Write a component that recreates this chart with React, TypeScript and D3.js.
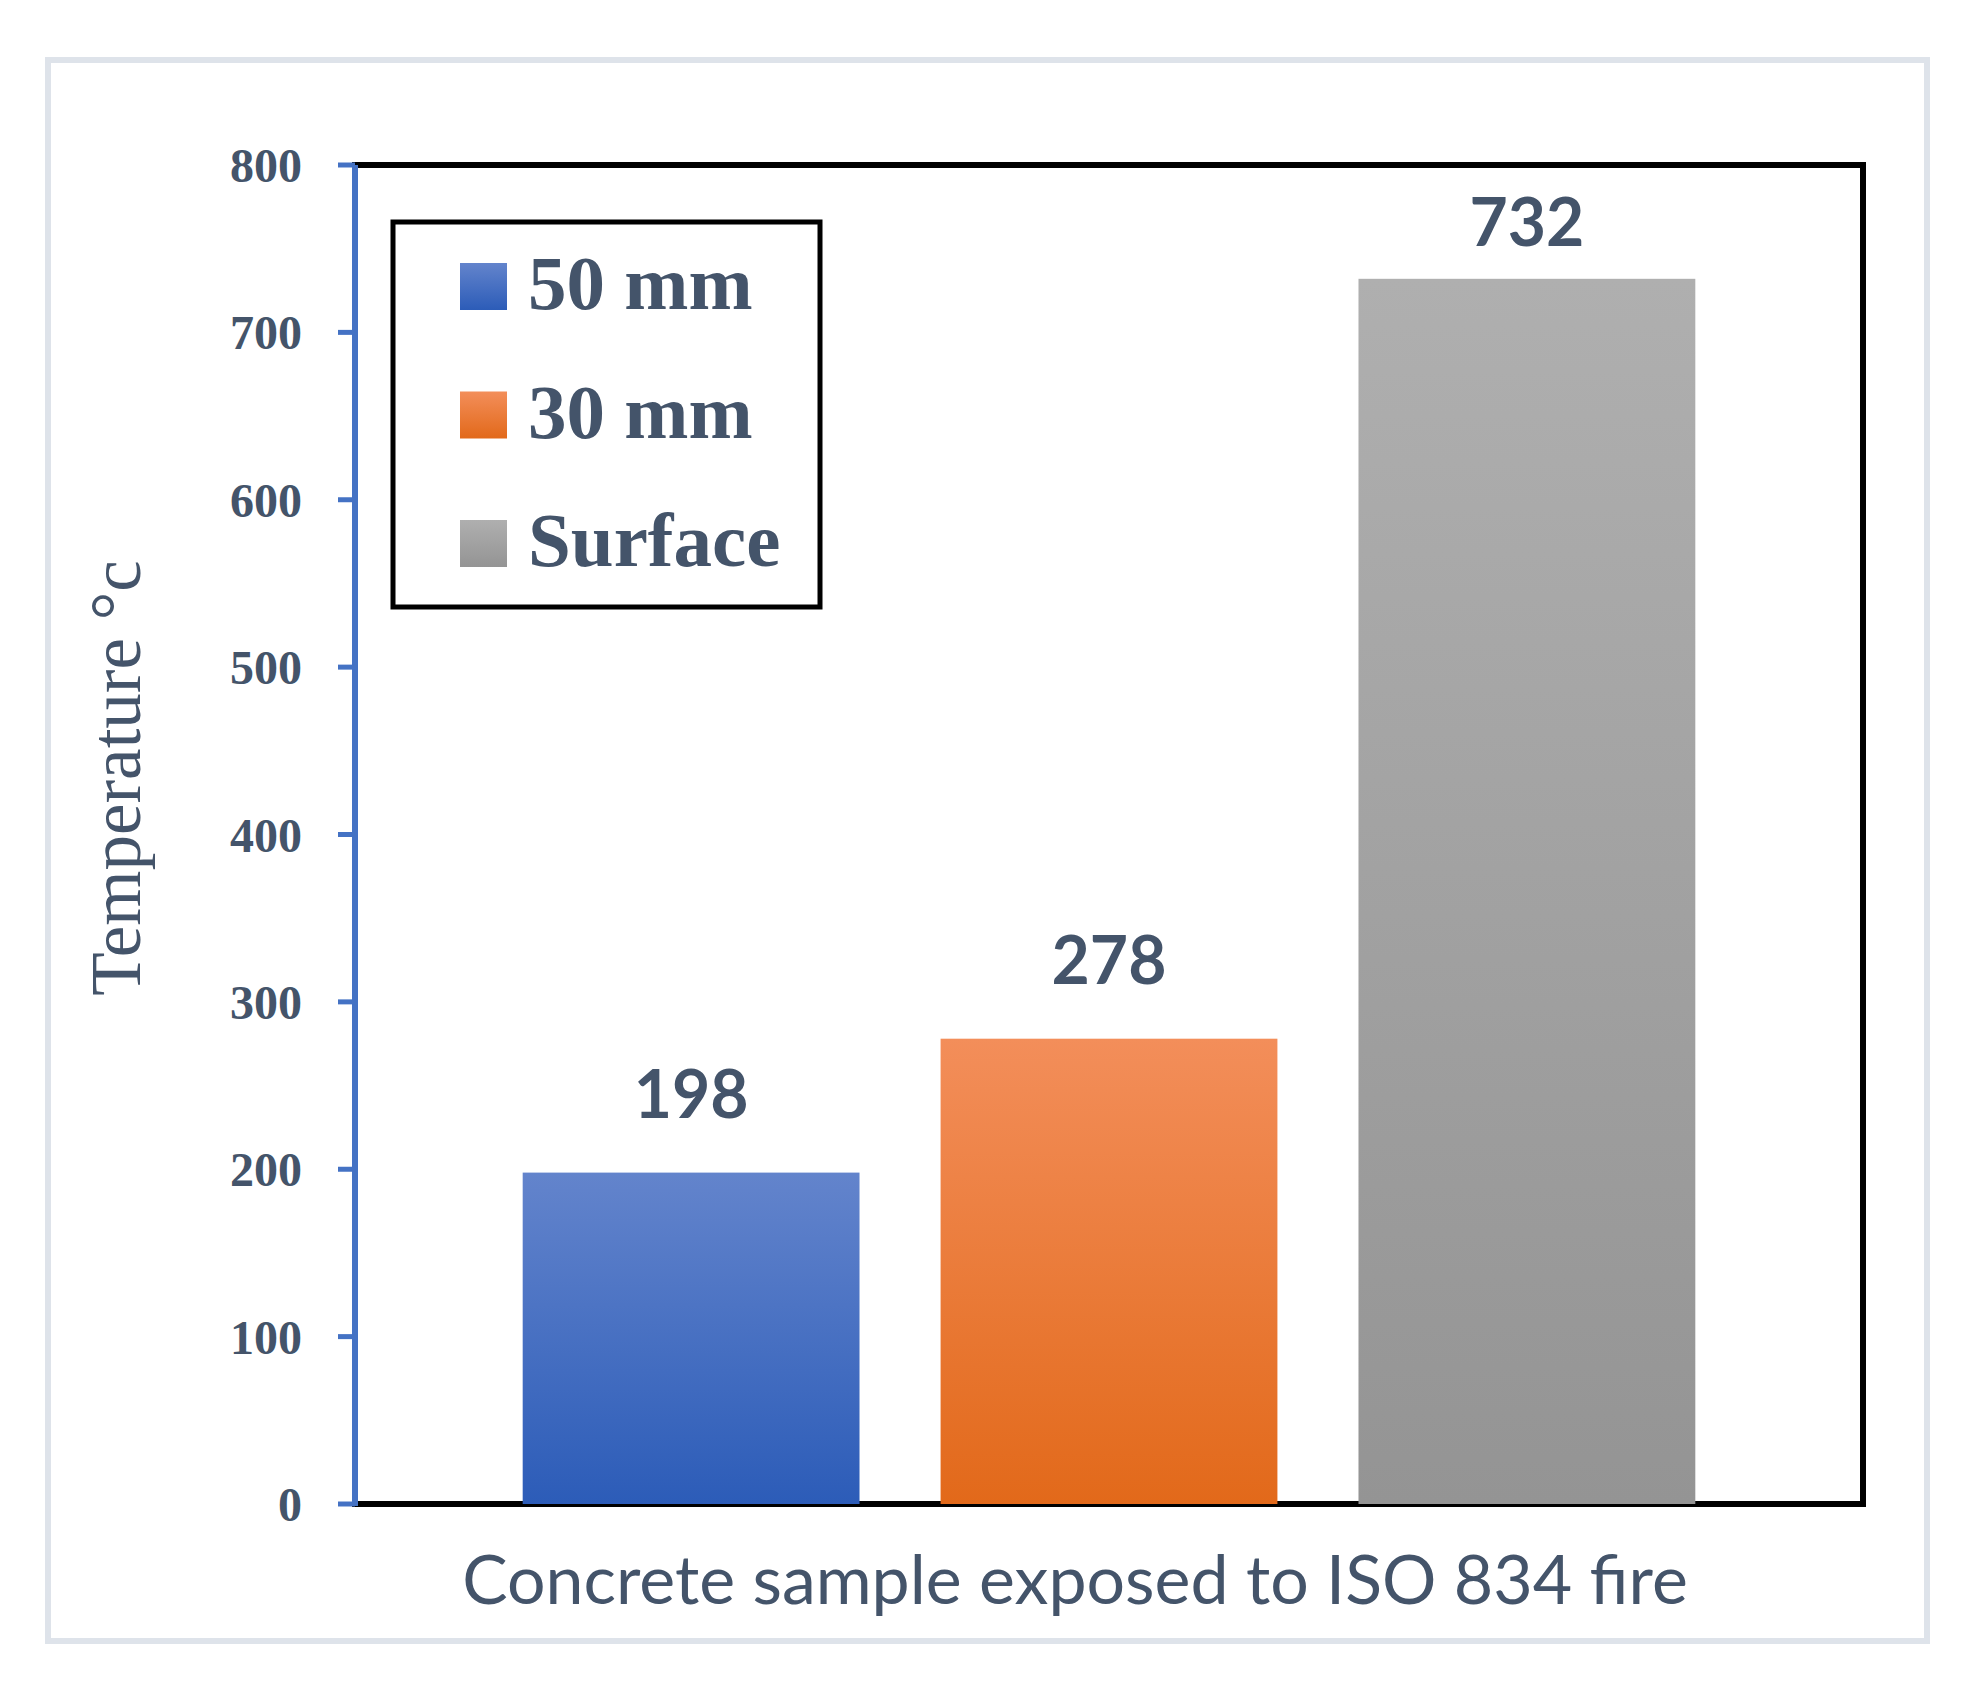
import React, { useEffect, useRef } from 'react';
import * as d3 from 'd3';

// chart data
const categories = ['Concrete sample exposed to ISO 834 fire'];
const seriesNames = ['50 mm', '30 mm', 'Surface'];
const seriesValues = [198, 278, 732];
const yTicks = [0, 100, 200, 300, 400, 500, 600, 700, 800];

// top / bottom colours of each bar's gradient
const seriesTop = ['#6384cc', '#f38e5a', '#afafaf'];
const seriesBottom = ['#2c5cb8', '#e2691a', '#949494'];

const TEXT = '#44546a';

const App: React.FC = () => {
  const svgRef = useRef<SVGSVGElement>(null);
  const width = 1975;
  const height = 1683;

  useEffect(() => {
    if (!svgRef.current) return;
    d3.select(svgRef.current).selectAll('*').remove();

    const svg = d3.select(svgRef.current);
    const plot = { left: 355, right: 1863, top: 165, bottom: 1504 };

    // outer light frame
    svg
      .append('rect')
      .attr('x', 48)
      .attr('y', 60)
      .attr('width', 1879)
      .attr('height', 1581)
      .attr('fill', 'none')
      .attr('stroke', '#dee3ea')
      .attr('stroke-width', 6);

    // gradients
    const defs = svg.append('defs');
    seriesNames.forEach((_, i) => {
      const g = defs
        .append('linearGradient')
        .attr('id', `grad-${i}`)
        .attr('x1', 0)
        .attr('y1', 0)
        .attr('x2', 0)
        .attr('y2', 1);
      g.append('stop').attr('offset', '0%').attr('stop-color', seriesTop[i]);
      g.append('stop').attr('offset', '100%').attr('stop-color', seriesBottom[i]);
    });

    // scales
    const yScale = d3.scaleLinear().domain([0, 800]).range([plot.bottom, plot.top]);
    const x0 = d3
      .scaleBand<string>()
      .domain(categories)
      .range([plot.left, plot.right])
      .paddingInner(0)
      .paddingOuter(0.143);
    const x1 = d3
      .scaleBand<string>()
      .domain(seriesNames)
      .range([0, x0.bandwidth()])
      .paddingInner(0.194)
      .paddingOuter(0);

    // plot frame
    svg
      .append('rect')
      .attr('x', plot.left)
      .attr('y', plot.top)
      .attr('width', plot.right - plot.left)
      .attr('height', plot.bottom - plot.top)
      .attr('fill', 'none')
      .attr('stroke', '#000')
      .attr('stroke-width', 6);

    // bars
    const group = svg
      .append('g')
      .attr('transform', `translate(${x0(categories[0])},0)`);

    group
      .selectAll('.bar')
      .data(seriesValues)
      .enter()
      .append('rect')
      .attr('class', 'bar')
      .attr('x', (_d: number, i: number) => x1(seriesNames[i]) as number)
      .attr('y', (d: number) => yScale(d))
      .attr('width', x1.bandwidth())
      .attr('height', (d: number) => yScale(0) - yScale(d))
      .attr('fill', (_d: number, i: number) => `url(#grad-${i})`);

    // value labels (kept inside the frame)
    group
      .selectAll('.val')
      .data(seriesValues)
      .enter()
      .append('text')
      .attr('class', 'val')
      .attr('x', (_d: number, i: number) => (x1(seriesNames[i]) as number) + x1.bandwidth() / 2)
      .attr('y', (d: number) => Math.max(yScale(d) - 55, plot.top + 81))
      .attr('text-anchor', 'middle')
      .attr('font-family', 'Lato, "Open Sans", sans-serif')
      .attr('font-weight', 700)
      .attr('font-size', 66)
      .attr('fill', TEXT)
      .text((d: number) => d);

    // y axis (blue)
    const yAxis = svg.append('g');
    yAxis
      .append('line')
      .attr('x1', plot.left)
      .attr('x2', plot.left)
      .attr('y1', yScale(800))
      .attr('y2', yScale(0) + 2)
      .attr('stroke', '#4472c4')
      .attr('stroke-width', 6);
    yAxis
      .selectAll('.tick')
      .data(yTicks)
      .enter()
      .append('line')
      .attr('x1', plot.left - 17)
      .attr('x2', plot.left)
      .attr('y1', (d: number) => yScale(d))
      .attr('y2', (d: number) => yScale(d))
      .attr('stroke', '#4472c4')
      .attr('stroke-width', 5);
    yAxis
      .selectAll('.tlabel')
      .data(yTicks)
      .enter()
      .append('text')
      .attr('x', 302)
      .attr('y', (d: number) => yScale(d) + 17)
      .attr('text-anchor', 'end')
      .attr('font-family', '"Liberation Serif", serif')
      .attr('font-weight', 700)
      .attr('font-size', 48)
      .attr('fill', TEXT)
      .text((d: number) => d);

    // axis titles
    svg
      .append('text')
      .attr('transform', `translate(140,${778}) rotate(-90)`)
      .attr('text-anchor', 'middle')
      .attr('font-family', '"Liberation Serif", serif')
      .attr('font-size', 71)
      .attr('fill', TEXT)
      .text('Temperature °c');

    svg
      .append('text')
      .attr('x', 1075)
      .attr('y', 1604)
      .attr('text-anchor', 'middle')
      .attr('font-family', 'Lato, "Open Sans", sans-serif')
      .attr('font-size', 68)
      .attr('fill', TEXT)
      .text(categories[0]);

    // legend
    const legend = svg.append('g');
    legend
      .append('rect')
      .attr('x', 393)
      .attr('y', 222)
      .attr('width', 427)
      .attr('height', 385)
      .attr('fill', '#fff')
      .attr('stroke', '#000')
      .attr('stroke-width', 5);

    const items = legend
      .selectAll('.item')
      .data(seriesNames)
      .enter()
      .append('g')
      .attr('transform', (_d: string, i: number) => `translate(460,${263 + i * 128.5})`);

    items
      .append('rect')
      .attr('width', 47)
      .attr('height', 47)
      .attr('fill', (_d: string, i: number) => `url(#grad-${i})`);

    items
      .append('text')
      .attr('x', 68)
      .attr('y', 46)
      .attr('font-family', '"Liberation Serif", serif')
      .attr('font-weight', 700)
      .attr('font-size', 77)
      .attr('fill', TEXT)
      .text((d: string) => d);
  }, []);

  return (
    <svg
      ref={svgRef}
      width={width}
      height={height}
      style={{ position: 'absolute', left: 0, top: 0, background: '#fff' }}
    />
  );
};

export default App;
